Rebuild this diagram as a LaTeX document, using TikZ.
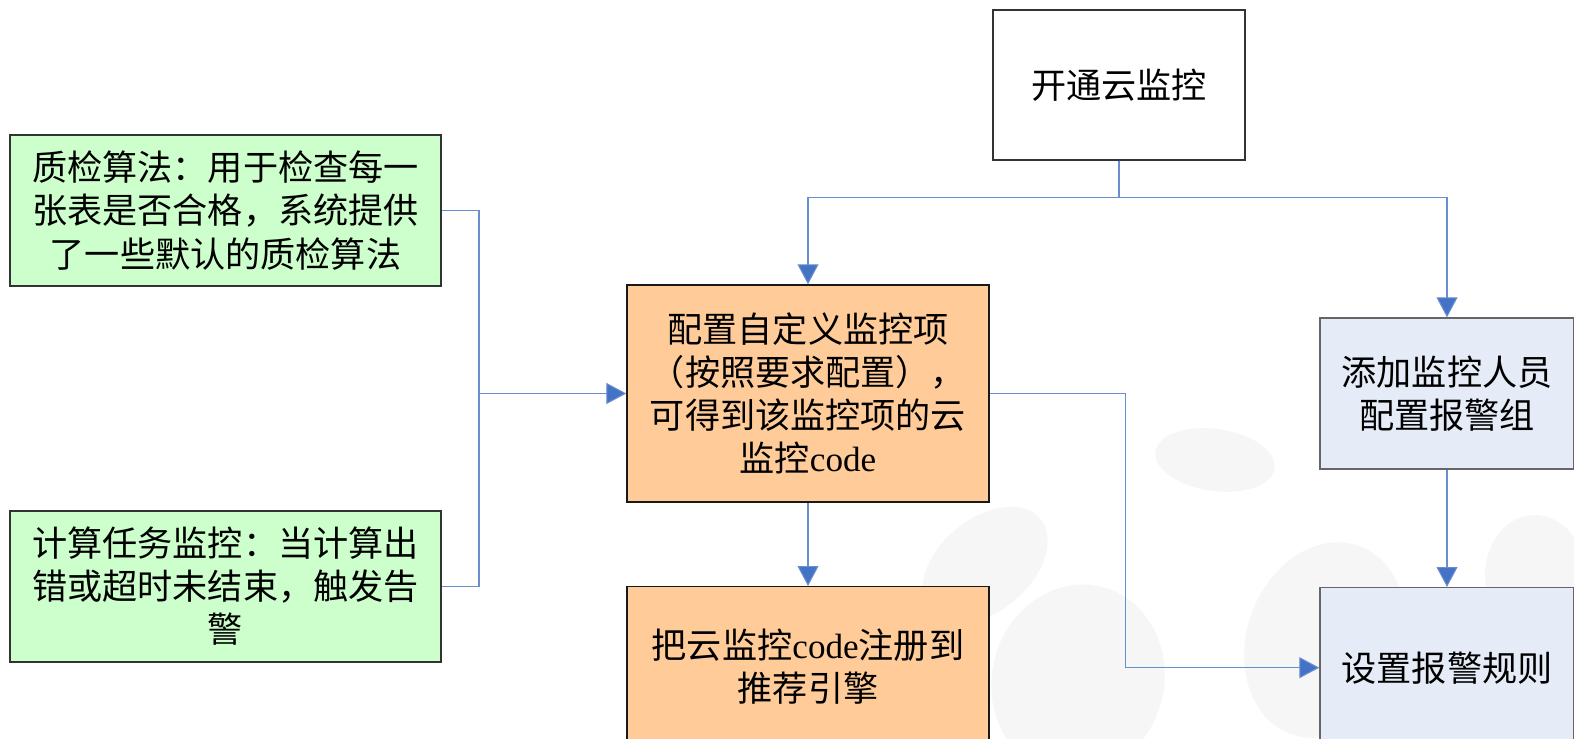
\documentclass[tikz,border=0pt]{standalone}
\usepackage{fontspec}
\setmainfont{Liberation Serif}
\newfontfamily\cjk{Noto Sans CJK SC}
\usepackage{tikz}
\usetikzlibrary{arrows,arrows.meta,positioning,calc}
\definecolor{boxgreen}{RGB}{204,255,204}
\definecolor{boxorange}{RGB}{255,204,153}
\definecolor{boxblue}{RGB}{230,236,247}
\definecolor{linkblue}{RGB}{68,114,196}
\definecolor{blobgray}{RGB}{246,246,246}

\tikzset{
  box/.style={draw=black!80,line width=0.8pt,align=center,inner sep=0pt,
    font=\cjk\fontsize{20}{24.5}\selectfont},
  greenbox/.style={box,fill=boxgreen,minimum width=8.62cm,minimum height=3.02cm},
  orangebox/.style={box,fill=boxorange,draw=black!90,minimum width=7.24cm,minimum height=4.34cm},
  bluebox/.style={box,fill=boxblue,draw=black!60,minimum width=5.08cm,minimum height=3.02cm},
  link/.style={draw=linkblue!80,line width=0.6pt},
  linkarrow/.style={link,-{Triangle[width=0.42cm,length=0.4cm,fill=linkblue]}}
}

\begin{document}
\begin{tikzpicture}[x=0.02cm,y=-0.02cm]
    \clip (0,0) rectangle (1574,739);
    \fill[white] (0,0) rectangle (1574,739);
    % watermark blobs
    \fill[blobgray,rotate around={-8:(1215,460)}] (1215,460) ellipse (60 and 31);
    \fill[blobgray,rotate around={40:(985,565)}] (985,565) ellipse (72 and 46);
    \fill[blobgray,rotate around={-15:(1078,680)}] (1078,680) ellipse (86 and 96);
    \fill[blobgray,rotate around={-20:(1325,640)}] (1325,640) ellipse (78 and 100);
    \fill[blobgray] (1535,575) ellipse (50 and 60);

    % boxes
    \node (open) [box,fill=white,minimum width=5.04cm,minimum height=3cm] at (1119,85) {开通云监控};
    \node (qc) [greenbox] at (225.5,210.5) {质检算法：用于检查每一\\张表是否合格，系统提供\\了一些默认的质检算法};
    \node (task) [greenbox] at (225.5,586.5) {计算任务监控：当计算出\\错或超时未结束，触发告\\警};
    \node (cfg) [orangebox] at (808,393.5) {配置自定义监控项\\（按照要求配置），\\可得到该监控项的云\\监控{\rmfamily code}};
    \node (reg) [orangebox,minimum height=3.2cm,anchor=north] at (808,586) {把云监控{\rmfamily code}注册到\\推荐引擎};
    \node (staff) [bluebox] at (1447,393.5) {添加监控人员\\配置报警组};
    \node (rule) [bluebox,minimum height=3.2cm,anchor=north] at (1447,587) {设置报警规则};
    \coordinate (jn) at (479,393.5);

    % connectors
    \draw[linkarrow] (open.south) -- ++(0,37) -| (cfg.north);
    \draw[linkarrow] (open.south) -- ++(0,37) -| (staff.north);
    \draw[link] (qc.east) -| (jn) |- (task.east);
    \draw[linkarrow] (jn) -- (cfg.west);
    \draw[linkarrow] (cfg.south) -- (reg.north);
    \draw[linkarrow] (cfg.east) -- ++(136,0) |- (rule.west);
    \draw[linkarrow] (staff.south) -- (rule.north);
\end{tikzpicture}
\end{document}
